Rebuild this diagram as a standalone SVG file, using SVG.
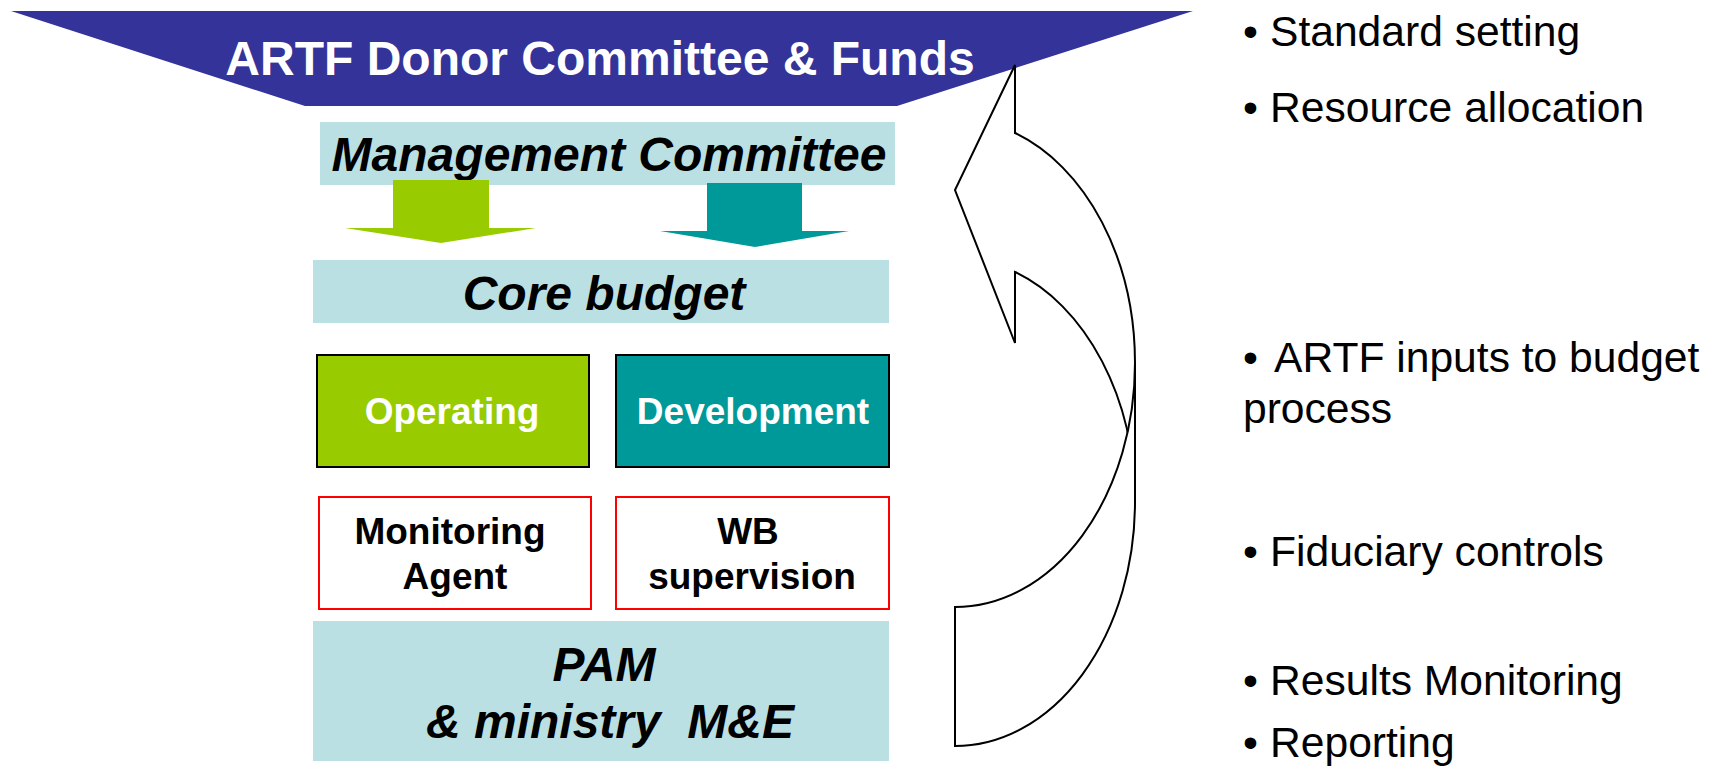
<svg xmlns="http://www.w3.org/2000/svg" width="1710" height="767" viewBox="0 0 1710 767">
  <style>
    .sans { font-family: "Liberation Sans", Arial, sans-serif; }
    .big { font-size: 48px; font-weight: bold; }
    .ital { font-style: italic; }
    .mid { font-size: 37px; font-weight: bold; }
    .note { font-size: 42.6px; fill: #000000; }
    .pale { fill: #BBE0E3; }
    .white { fill: #FFFFFF; }
    .black { fill: #000000; }
    .redbox { fill: #FFFFFF; stroke: #FF0000; stroke-width: 2; }
    .outline { fill: #FFFFFF; stroke: #000000; stroke-width: 2; stroke-linejoin: miter; }
  </style>

  <rect width="1710" height="767" fill="#FFFFFF"/>

  <!-- Donor committee banner -->
  <g id="donor-committee">
    <polygon points="11,11 1193,11 897,106 305,106" fill="#333399"/>
    <text class="sans big white" x="600" y="75" text-anchor="middle">ARTF Donor Committee &amp; Funds</text>
  </g>

  <g id="management-committee">
    <rect class="pale" x="320" y="122" width="575" height="63"/>
    <text class="sans big ital black" x="609" y="171" text-anchor="middle">Management Committee</text>
  </g>

  <g id="core-budget">
    <rect class="pale" x="313" y="260" width="576" height="63"/>
    <text class="sans big ital black" x="604" y="310" text-anchor="middle">Core budget</text>
  </g>

  <g id="operating">
    <rect x="317" y="355" width="272" height="112" fill="#99CC00" stroke="#000000" stroke-width="2"/>
    <text class="sans mid white" x="452" y="424" text-anchor="middle">Operating</text>
  </g>

  <g id="development">
    <rect x="616" y="355" width="273" height="112" fill="#009999" stroke="#000000" stroke-width="2"/>
    <text class="sans mid white" x="753" y="424" text-anchor="middle">Development</text>
  </g>

  <g id="monitoring-agent">
    <rect class="redbox" x="319" y="497" width="272" height="112"/>
    <text class="sans mid black" x="450" y="544" text-anchor="middle">Monitoring</text>
    <text class="sans mid black" x="455" y="589" text-anchor="middle">Agent</text>
  </g>

  <g id="wb-supervision">
    <rect class="redbox" x="616" y="497" width="273" height="112"/>
    <text class="sans mid black" x="748" y="544" text-anchor="middle">WB</text>
    <text class="sans mid black" x="752" y="589" text-anchor="middle">supervision</text>
  </g>

  <g id="pam">
    <rect class="pale" x="313" y="621" width="576" height="140"/>
    <text class="sans big ital black" x="604" y="681" text-anchor="middle">PAM</text>
    <text class="sans big ital black" x="610" y="738" text-anchor="middle" xml:space="preserve">&amp; ministry  M&amp;E</text>
  </g>

  <!-- Flow arrows -->
  <g id="connectors">
    <polygon points="393,180 489,180 489,228 536,228 441,243 345,228 393,228" fill="#99CC00"/>
    <polygon points="707,183 802,183 802,231 849,231 755,247 660,231 707,231" fill="#009999"/>
    <!-- curved feedback arrow: back half with head, then front band -->
    <path class="outline" d="M1135,363 A180,244 0 0 0 1015,133 L1015,65 L955,190 L1015,343 L1015,272 A180,244 0 0 1 1135,502 Z"/>
    <path class="outline" d="M955,746 A180,244 0 0 0 1135,502 L1135,363 A180,244 0 0 1 955,607 Z"/>
  </g>

  <!-- Function list -->
  <g id="functions" class="sans note">
    <text y="46"><tspan x="1243">•</tspan><tspan x="1270">Standard setting</tspan></text>
    <text y="122"><tspan x="1243">•</tspan><tspan x="1270">Resource allocation</tspan></text>
    <text y="372"><tspan x="1243">•</tspan><tspan x="1274">ARTF inputs to budget</tspan></text>
    <text x="1243" y="423">process</text>
    <text y="566"><tspan x="1243">•</tspan><tspan x="1270">Fiduciary controls</tspan></text>
    <text y="695"><tspan x="1243">•</tspan><tspan x="1270">Results Monitoring</tspan></text>
    <text y="757"><tspan x="1243">•</tspan><tspan x="1270">Reporting</tspan></text>
  </g>
</svg>
